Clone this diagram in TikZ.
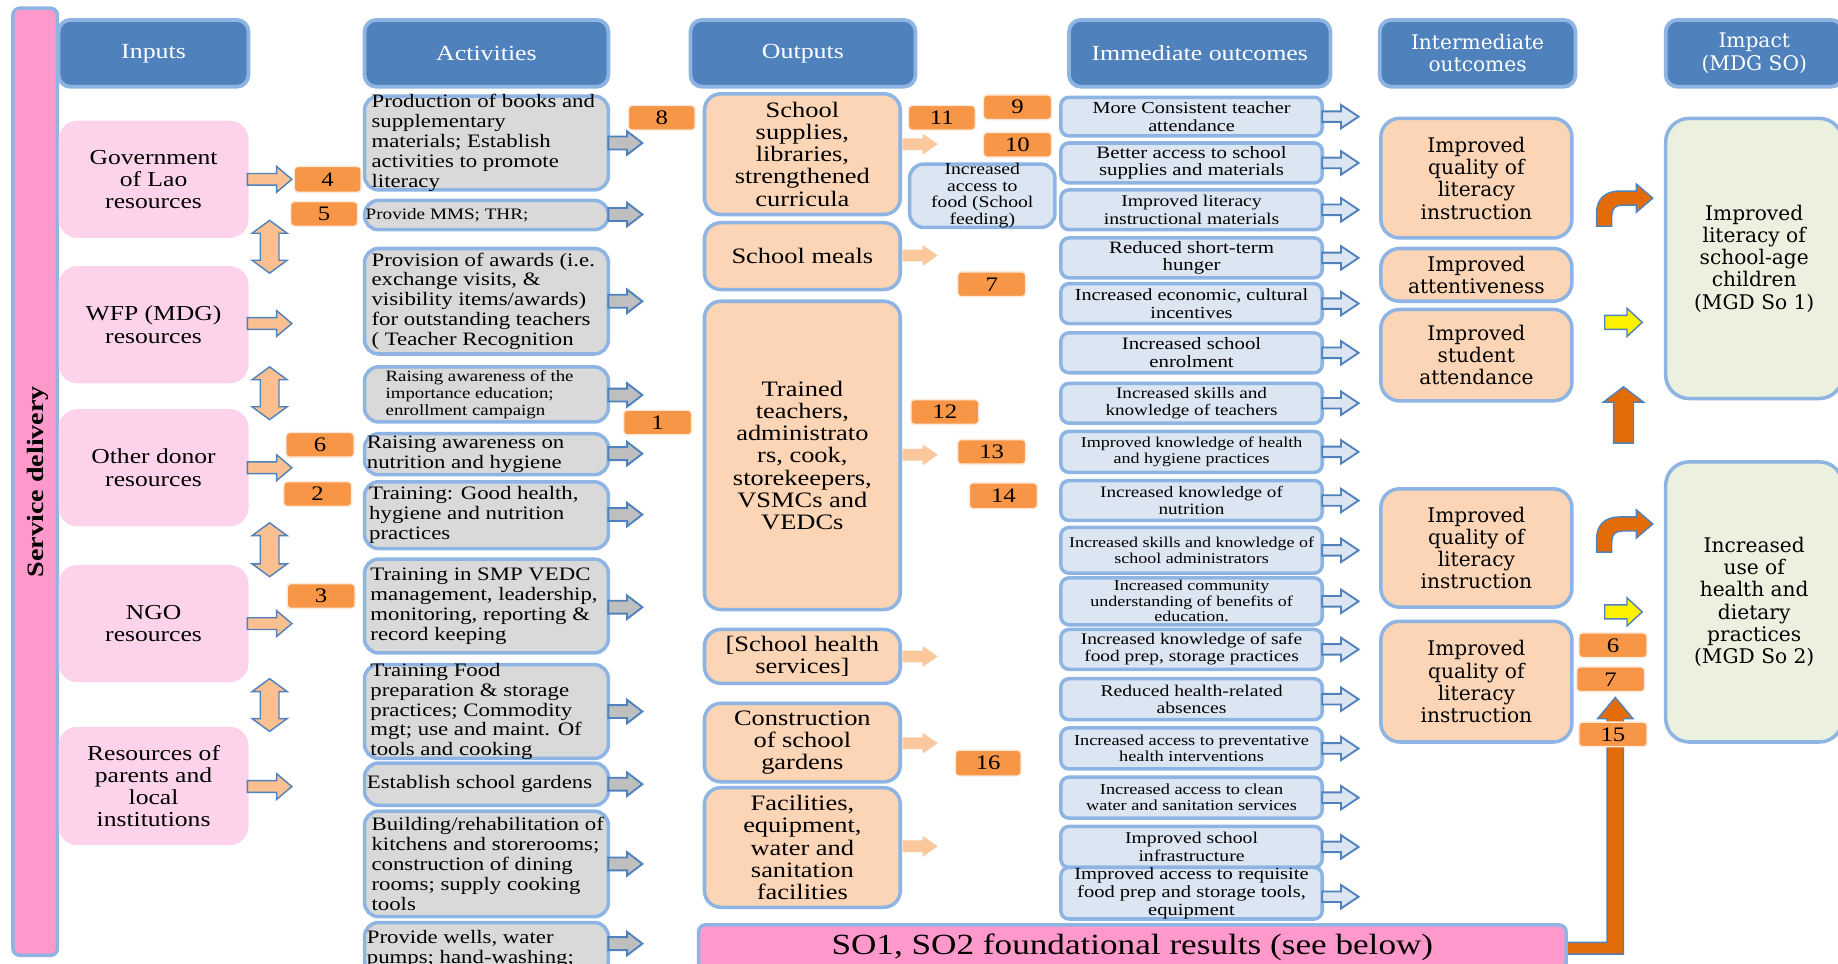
\documentclass[tikz,border=0pt]{standalone}
\usepackage{fontspec}
\setmainfont{Liberation Serif}[FakeStretch=1.2]
\newfontfamily\widefont{DejaVu Serif}
\newcommand\fsz[2]{\fontsize{#1}{#2}\selectfont}

\definecolor{hdrblue}{HTML}{4F81BD}
\definecolor{edgeblue}{HTML}{8EB4E3}
\definecolor{inpink}{HTML}{FCD3EA}
\definecolor{barpink}{HTML}{FF99CC}
\definecolor{actgray}{HTML}{D9D9D9}
\definecolor{peach}{HTML}{FBD5B5}
\definecolor{paleblue}{HTML}{DCE6F2}
\definecolor{palegreen}{HTML}{EBF1DE}
\definecolor{numorange}{HTML}{F79646}
\definecolor{numedge}{HTML}{FDE9D9}
\definecolor{lightorange}{HTML}{FAC090}
\definecolor{softorange}{HTML}{FBC79C}
\definecolor{deeporange}{HTML}{E36C09}
\definecolor{arrowgray}{HTML}{BFBFBF}
\definecolor{lineblue}{HTML}{4F81BD}

\tikzset{
  every node/.style={inner sep=0pt, outer sep=0pt},
  hdr/.style={draw=edgeblue, line width=1.6pt, fill=hdrblue, rounded corners=5pt},
  hdrtxt/.style={text=white, align=center, font=\fsz{9.2}{10}},
  hdrwide/.style={text=white, align=center, font=\widefont\fsz{8.6}{9.5}},
  sidebar/.style={draw=edgeblue, line width=1.5pt, fill=barpink, rounded corners=3pt},
  inbox/.style={fill=inpink, rounded corners=8pt},
  intxt/.style={align=center, font=\fsz{9.1}{9.4}},
  actbox/.style={draw=edgeblue, line width=1.5pt, fill=actgray, rounded corners=6pt},
  acttxt/.style={align=left, font=\fsz{8.1}{8.5}},
  outbox/.style={draw=edgeblue, line width=1.5pt, fill=peach, rounded corners=7pt},
  outtxt/.style={align=center, font=\fsz{9.4}{9.5}},
  imbox/.style={draw=edgeblue, line width=1.5pt, fill=paleblue, rounded corners=3.5pt},
  imtxt/.style={align=center, font=\fsz{7.2}{7.5}},
  midbox/.style={draw=edgeblue, line width=1.5pt, fill=peach, rounded corners=8pt},
  midtxt/.style={align=center, font=\widefont\fsz{8.6}{9.5}},
  impbox/.style={draw=edgeblue, line width=1.5pt, fill=palegreen, rounded corners=10pt},
  numbox/.style={draw=numedge, line width=0.6pt, fill=numorange, rounded corners=1.5pt},
  numtxt/.style={font=\fsz{8.8}{9}},
  inarr/.style={fill=lightorange, draw=lineblue, line width=0.6pt},
  grayarr/.style={fill=arrowgray, draw=lineblue, line width=0.8pt},
  outarr/.style={fill=softorange, draw=none},
  imarr/.style={fill=paleblue, draw=lineblue, line width=0.8pt},
  yelarr/.style={fill=yellow, draw=lineblue, line width=0.6pt},
  deeparr/.style={fill=deeporange, draw=lineblue, line width=0.6pt},
}

% box with centred text
\newcommand\bxc[8]{%
  \node[#2, minimum width={(#5-#3)*0.5pt}, minimum height={(#6-#4)*0.5pt}] (#1) at ({(#3+#5)/2},{(#4+#6)/2}) {};
  \node[#7] (#1-t) at (#1.center) {#8};}
% box with left-aligned text (inset given through xshift)
\newcommand\bxl[8]{%
  \node[#2, minimum width={(#5-#3)*0.5pt}, minimum height={(#6-#4)*0.5pt}] (#1) at ({(#3+#5)/2},{(#4+#6)/2}) {};
  \node[#7, anchor=west] (#1-t) at (#1.west) {#8};}
\newcommand\numb[6]{\bxc{#1}{numbox}{#2}{#3}{#4}{#5}{numtxt}{#6}}
% block arrow pointing right: style, x-left, x-tip, y-centre, shaft half, head half, head length
\newcommand\rarr[7]{\path[#1] ({#2},{#4-#5}) -- ({#3-#7},{#4-#5}) -- ({#3-#7},{#4-#6}) -- ({#3},{#4}) -- ({#3-#7},{#4+#6}) -- ({#3-#7},{#4+#5}) -- ({#2},{#4+#5}) -- cycle;}
% vertical double-headed block arrow: style, x-centre, y-top, y-bottom, shaft half, head half, head length
\newcommand\vdarr[7]{\path[#1] ({#2},{#3}) -- ({#2+#6},{#3+#7}) -- ({#2+#5},{#3+#7}) -- ({#2+#5},{#4-#7}) -- ({#2+#6},{#4-#7}) -- ({#2},{#4}) -- ({#2-#6},{#4-#7}) -- ({#2-#5},{#4-#7}) -- ({#2-#5},{#3+#7}) -- ({#2-#6},{#3+#7}) -- cycle;}
% upward block arrow: style, x-centre, y-tip, y-bottom, shaft half, head half, head length
\newcommand\uarr[7]{\path[#1] ({#2},{#3}) -- ({#2+#6},{#3+#7}) -- ({#2+#5},{#3+#7}) -- ({#2+#5},{#4}) -- ({#2-#5},{#4}) -- ({#2-#5},{#3+#7}) -- ({#2-#6},{#3+#7}) -- cycle;}
% bent arrow (up then right), shifted down by #2
\newcommand\bentarr[2]{\path[#1] (1362,{193+#2}) -- (1362,{182+#2}) .. controls (1362,{170+#2}) and (1369,{163+#2}) .. (1382,{163+#2}) -- (1396,{163+#2}) -- (1396,{157+#2}) -- (1410,{169+#2}) -- (1396,{181+#2}) -- (1396,{175+#2}) -- (1384,{175+#2}) .. controls (1378,{175+#2}) and (1375,{178+#2}) .. (1375,{184+#2}) -- (1375,{193+#2}) -- cycle;}

\begin{document}
\begin{tikzpicture}[x=0.5pt,y=-0.5pt]
\useasboundingbox (0,0) rectangle (1568,822);
\clip (0,0) rectangle (1568,822);
\fill[white] (0,0) rectangle (1568,822);

% side bar
\node[sidebar, minimum width={38*0.5pt}, minimum height={808*0.5pt}] (svc) at (30,411) {};
\node[rotate=90, font=\bfseries\fsz{10}{10}] (svc-t) at (32,411) {Service delivery};

% column headers
\bxc{hIn}{hdr}{50}{17}{212}{74}{hdrtxt}{Inputs}
\bxc{hAct}{hdr}{311}{17}{519}{74}{hdrtxt}{Activities}
\bxc{hOut}{hdr}{589}{17}{781}{74}{hdrtxt}{Outputs}
\bxc{hImm}{hdr}{912}{17}{1135}{74}{hdrtxt}{Immediate outcomes}
\bxc{hMid}{hdr}{1177}{17}{1344}{74}{hdrwide}{Intermediate\\outcomes}
\bxc{hImp}{hdr}{1421}{17}{1572}{74}{hdrwide}{Impact\\(MDG SO)}

% inputs
\bxc{inGov}{inbox}{50}{103}{212}{203}{intxt}{Government\\of Lao\\resources}
\bxc{inWfp}{inbox}{50}{227}{212}{327}{intxt}{WFP (MDG)\\resources}
\bxc{inOth}{inbox}{50}{349}{212}{449}{intxt}{Other donor\\resources}
\bxc{inNgo}{inbox}{50}{482}{212}{582}{intxt}{NGO\\resources}
\bxc{inPar}{inbox}{50}{620}{212}{721}{intxt}{Resources of\\parents and\\local\\institutions}

\rarr{inarr}{211}{249}{153}{5}{11}{13}
\rarr{inarr}{211}{249}{276}{5}{11}{13}
\rarr{inarr}{211}{249}{399}{5}{11}{13}
\rarr{inarr}{211}{249}{532}{5}{11}{13}
\rarr{inarr}{211}{249}{671}{5}{11}{13}

\vdarr{inarr}{230}{188}{233}{8}{15}{11}
\vdarr{inarr}{230}{313}{358}{8}{15}{11}
\vdarr{inarr}{230}{446}{492}{8}{15}{11}
\vdarr{inarr}{230}{579}{624}{8}{15}{11}

% activities
\bxl{a1}{actbox}{311}{82}{519}{162}{acttxt,xshift=3pt}{Production of books and\\supplementary\\materials; Establish\\activities to promote\\literacy}
\bxl{a2}{actbox}{311}{171}{519}{196}{acttxt,xshift=0.5pt,font=\fsz{6.8}{7.5}}{Provide MMS; THR;}
\bxl{a3}{actbox}{311}{212}{519}{302}{acttxt,xshift=3pt}{Provision of awards (i.e.\\exchange visits, \&\\visibility items/awards)\\for outstanding teachers\\( Teacher Recognition}
\bxl{a4}{actbox}{311}{313}{519}{360}{acttxt,xshift=9pt,font=\fsz{6.7}{7.2}}{Raising awareness of the\\importance education;\\enrollment campaign}
\bxl{a5}{actbox}{311}{370}{519}{405}{acttxt,xshift=1pt}{Raising awareness on\\nutrition and hygiene}
\bxl{a6}{actbox}{311}{411}{519}{468}{acttxt,xshift=2pt}{Training: Good health,\\hygiene and nutrition\\practices}
\bxl{a7}{actbox}{311}{477}{519}{557}{acttxt,xshift=2.5pt}{Training in SMP VEDC\\management, leadership,\\monitoring, reporting \&\\record keeping}
\bxl{a8}{actbox}{311}{567}{519}{647}{acttxt,xshift=2.5pt}{Training Food\\preparation \& storage\\practices; Commodity\\mgt; use and maint. Of\\tools and cooking}
\bxl{a9}{actbox}{311}{651}{519}{687}{acttxt,xshift=1pt}{Establish school gardens}
\bxl{a10}{actbox}{311}{692}{519}{782}{acttxt,xshift=3pt}{Building/rehabilitation of\\kitchens and storerooms;\\construction of dining\\rooms; supply cooking\\tools}
\bxl{a11}{actbox}{311}{787}{519}{832}{acttxt,xshift=1pt}{Provide wells, water\\pumps; hand-washing;}

\foreach \yy in {122,183,257,337,387,439,518,607,669,737,805}
  {\rarr{grayarr}{519}{548}{\yy}{5.5}{10}{13}}

% outputs
\bxc{o1}{outbox}{601}{80}{768}{183}{outtxt}{School\\supplies,\\libraries,\\strengthened\\curricula}
\bxc{o2}{outbox}{601}{190}{768}{247}{outtxt}{School meals}
\bxc{o3}{outbox}{601}{257}{768}{520}{outtxt}{Trained\\teachers,\\administrato\\rs, cook,\\storekeepers,\\VSMCs and\\VEDCs}
\bxc{o4}{outbox}{601}{537}{768}{583}{outtxt}{[School health\\services]}
\bxc{o5}{outbox}{601}{600}{768}{667}{outtxt}{Construction\\of school\\gardens}
\bxc{o6}{outbox}{601}{672}{768}{774}{outtxt}{Facilities,\\equipment,\\water and\\sanitation\\facilities}

\foreach \yy in {123,218,388,560,634,722}
  {\rarr{outarr}{770}{800}{\yy}{5}{9}{13}}

\bxc{food}{imbox,rounded corners=6pt}{776}{140}{900}{194}{imtxt,font=\fsz{7}{7.1}}{Increased\\access to\\food (School\\feeding)}

% immediate outcomes
\bxc{im1}{imbox}{905}{83}{1128}{116}{imtxt,font=\fsz{7.2}{7.5}}{More Consistent teacher\\attendance}
\bxc{im2}{imbox}{905}{122}{1128}{156}{imtxt,font=\fsz{7.4}{7.5}}{Better access to school\\supplies and materials}
\bxc{im3}{imbox}{905}{162}{1128}{196}{imtxt,font=\fsz{7}{7.4}}{Improved literacy\\instructional materials}
\bxc{im4}{imbox}{905}{203}{1128}{237}{imtxt,font=\fsz{7.4}{7.5}}{Reduced short-term\\hunger}
\bxc{im5}{imbox}{905}{242}{1128}{276}{imtxt,font=\fsz{7.2}{7.5}}{Increased economic, cultural\\incentives}
\bxc{im6}{imbox}{905}{284}{1128}{318}{imtxt,font=\fsz{7.4}{7.5}}{Increased school\\enrolment}
\bxc{im7}{imbox}{905}{327}{1128}{361}{imtxt,font=\fsz{6.8}{7.3}}{Increased skills and\\knowledge of teachers}
\bxc{im8}{imbox}{905}{368}{1128}{403}{imtxt,font=\fsz{6.4}{6.9}}{Improved knowledge of health\\and hygiene practices}
\bxc{im9}{imbox}{905}{410}{1128}{444}{imtxt,font=\fsz{6.8}{7.3}}{Increased knowledge of\\nutrition}
\bxc{im10}{imbox}{905}{450}{1128}{489}{imtxt,font=\fsz{6.4}{6.9}}{Increased skills and knowledge of\\school administrators}
\bxc{im11}{imbox}{905}{493}{1128}{533}{imtxt,font=\fsz{6.4}{6.6}}{Increased community\\understanding of benefits of\\education.}
\bxc{im12}{imbox}{905}{537}{1128}{571}{imtxt,font=\fsz{6.9}{7.2}}{Increased knowledge of safe\\food prep, storage practices}
\bxc{im13}{imbox}{905}{579}{1128}{614}{imtxt,font=\fsz{7}{7.5}}{Reduced health-related\\absences}
\bxc{im14}{imbox}{905}{621}{1128}{656}{imtxt,font=\fsz{6.5}{6.9}}{Increased access to preventative\\health interventions}
\bxc{im15}{imbox}{905}{663}{1128}{698}{imtxt,font=\fsz{6.5}{6.9}}{Increased access to clean\\water and sanitation services}
\bxc{im16}{imbox}{905}{705}{1128}{740}{imtxt,font=\fsz{7}{7.5}}{Improved school\\infrastructure}
\bxc{im17}{imbox}{905}{740}{1128}{784}{imtxt,font=\fsz{7.3}{7.6}}{Improved access to requisite\\food prep and storage tools,\\equipment}

\foreach \yy in {99.5,139,179,220,259,301,344,385.5,427,469.5,513,554,596.5,638.5,680.5,722.5,765}
  {\rarr{imarr}{1128}{1159}{\yy}{4.5}{10}{15}}

% intermediate outcomes
\bxc{mid1}{midbox}{1178}{101}{1341}{203}{midtxt}{Improved\\quality of\\literacy\\instruction}
\bxc{mid2}{midbox}{1178}{212}{1341}{257}{midtxt}{Improved\\attentiveness}
\bxc{mid3}{midbox}{1178}{264}{1341}{342}{midtxt}{Improved\\student\\attendance}
\bxc{mid4}{midbox}{1178}{417}{1341}{518}{midtxt}{Improved\\quality of\\literacy\\instruction}
\bxc{mid5}{midbox}{1178}{530}{1341}{633}{midtxt}{Improved\\quality of\\literacy\\instruction}

% impact
\bxc{imp1}{impbox}{1421}{101}{1572}{340}{midtxt}{Improved\\literacy of\\school-age\\children\\(MGD So 1)}
\bxc{imp2}{impbox}{1421}{394}{1572}{633}{midtxt}{Increased\\use of\\health and\\dietary\\practices\\(MGD So 2)}

% arrows into the impact column
\bentarr{deeparr}{0}
\bentarr{deeparr}{278}
\rarr{yelarr}{1369}{1401}{275}{6}{12}{13}
\rarr{yelarr}{1369}{1401}{522}{6}{12}{13}
\uarr{deeparr}{1385}{330}{378}{8.5}{17}{13}

% foundational results bar and its elbow arrow
\path[deeparr] (1335,804) -- (1371,804) -- (1371,613) -- (1363,613) -- (1378,595) -- (1393,613) -- (1385,613) -- (1385,814) -- (1335,814) -- cycle;
\bxc{so}{sidebar}{596}{789}{1336}{828}{font=\fsz{12.5}{13}}{SO1, SO2 foundational results (see below)}

% numbered tags
\numb{n4}{251}{142}{308}{164}{4}
\numb{n5}{248}{172}{305}{193}{5}
\numb{n6}{244}{369}{302}{390}{6}
\numb{n2}{242}{411}{300}{432}{2}
\numb{n3}{245}{498}{303}{519}{3}
\numb{n8}{536}{90}{593}{111}{8}
\numb{n1}{532}{350}{590}{371}{1}
\numb{n11}{775}{90}{832}{111}{11}
\numb{n9}{839}{81}{897}{102}{9}
\numb{n10}{839}{113}{897}{134}{10}
\numb{n7}{817}{232}{875}{253}{7}
\numb{n12}{777}{341}{835}{362}{12}
\numb{n13}{817}{375}{875}{396}{13}
\numb{n14}{827}{412}{885}{434}{14}
\numb{n16}{815}{640}{871}{662}{16}
\numb{n6b}{1347}{540}{1405}{561}{6}
\numb{n7b}{1345}{569}{1403}{590}{7}
\numb{n15}{1347}{616}{1405}{637}{15}
\end{tikzpicture}
\end{document}
